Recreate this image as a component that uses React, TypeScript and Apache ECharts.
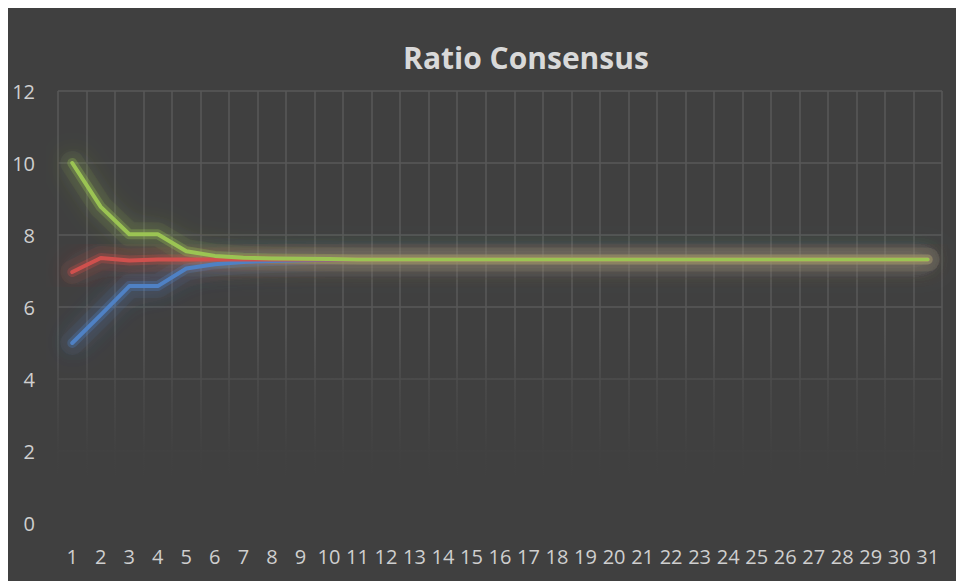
import React, { useEffect, useRef } from "react";
import * as echarts from "echarts";

const categories = Array.from({ length: 31 }, (_, i) => String(i + 1));
const blueValues = [5, 5.78, 6.58, 6.58, 7.07, 7.19, 7.25, 7.28, 7.3, 7.31, 7.32, 7.32, 7.32, 7.32, 7.32, 7.32, 7.32, 7.32, 7.32, 7.32, 7.32, 7.32, 7.32, 7.32, 7.32, 7.32, 7.32, 7.32, 7.32, 7.32, 7.32];
const redValues = [6.97, 7.36, 7.29, 7.32, 7.32, 7.32, 7.32, 7.32, 7.32, 7.32, 7.32, 7.32, 7.32, 7.32, 7.32, 7.32, 7.32, 7.32, 7.32, 7.32, 7.32, 7.32, 7.32, 7.32, 7.32, 7.32, 7.32, 7.32, 7.32, 7.32, 7.32];
const greenValues = [10, 8.78, 8.02, 8.02, 7.55, 7.42, 7.37, 7.35, 7.34, 7.33, 7.32, 7.32, 7.32, 7.32, 7.32, 7.32, 7.32, 7.32, 7.32, 7.32, 7.32, 7.32, 7.32, 7.32, 7.32, 7.32, 7.32, 7.32, 7.32, 7.32, 7.32];
const yTicks = { min: 0, max: 12, interval: 2 };

export default function App() {
  const ref = useRef<HTMLDivElement>(null);
  useEffect(() => {
    if (!ref.current) return;
    const chart = echarts.init(ref.current, undefined, { renderer: "svg" });
    const glow = (data: number[], rgb: string, width: number, alpha: number, blur: number) => ({
      type: "line",
      data,
      symbol: "none",
      silent: true,
      z: 2,
      tooltip: { show: false },
      lineStyle: { color: `rgba(${rgb},${alpha})`, width, shadowBlur: blur, shadowColor: `rgba(${rgb},1)`, cap: "round", join: "round" },
    });
    const mk = (name: string, data: number[], color: string) => ({
      name,
      type: "line",
      data,
      symbol: "none",
      z: 3,
      lineStyle: { color, width: 4, cap: "round", join: "round" },
      itemStyle: { color },
    });
    const B = "79,129,196";
    const R = "207,80,77";
    const G = "155,196,83";
    chart.setOption({
      animation: false,
      backgroundColor: "#404040",
      textStyle: { fontFamily: "Open Sans" },
      title: {
        text: "Ratio Consensus",
        left: 518,
        top: 34,
        padding: 0,
        textAlign: "center",
        textStyle: { color: "#d9d9d9", fontSize: 30, fontWeight: "bold", fontFamily: "Open Sans" },
      },
      grid: { left: 50, right: 14, top: 83, bottom: 58, containLabel: false },
      xAxis: {
        type: "category",
        data: categories,
        boundaryGap: true,
        axisLine: { show: false },
        axisTick: { show: false },
        axisLabel: { color: "#cfcfcf", fontSize: 20, margin: 23, interval: 0, fontFamily: "Open Sans" },
        splitLine: { show: true, interval: 0, lineStyle: { color: "#595959", width: 1.5 } },
      },
      yAxis: {
        type: "value",
        min: yTicks.min,
        max: yTicks.max,
        interval: yTicks.interval,
        axisLine: { show: false },
        axisTick: { show: false },
        axisLabel: { color: "#cfcfcf", fontSize: 20, margin: 23, fontFamily: "Open Sans" },
        splitLine: { show: true, lineStyle: { color: "#595959", width: 1.5 } },
      },
      graphic: [
        {
          type: "rect",
          z: 1,
          shape: { x: 48, y: 322, width: 890, height: 198 },
          style: {
            fill: new echarts.graphic.LinearGradient(0, 0, 0, 1, [
              { offset: 0, color: "rgba(64,64,64,0)" },
              { offset: 0.3, color: "rgba(64,64,64,0.55)" },
              { offset: 0.6, color: "rgba(64,64,64,0.93)" },
              { offset: 0.75, color: "rgba(64,64,64,1)" },
              { offset: 1, color: "rgba(64,64,64,1)" },
            ]),
          },
          silent: true,
        },
      ],
      series: [
        glow(blueValues, B, 24, 0.07, 24),
        glow(redValues, R, 24, 0.07, 24),
        glow(greenValues, G, 24, 0.07, 24),
        glow(blueValues, B, 10, 0.28, 20),
        glow(redValues, R, 10, 0.28, 20),
        glow(greenValues, G, 10, 0.28, 20),
        mk("Blue", blueValues, "#4f81c4"),
        mk("Red", redValues, "#cf504d"),
        mk("Green", greenValues, "#9bc453"),
      ],
    });
    return () => chart.dispose();
  }, []);
  return (
    <div
      ref={ref}
      style={{ position: "absolute", left: 8, top: 8, width: 948, height: 573 }}
    />
  );
}
